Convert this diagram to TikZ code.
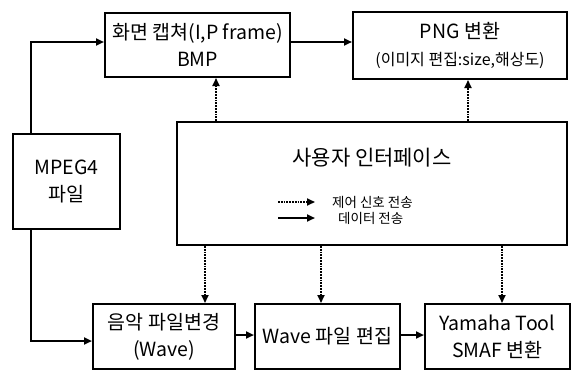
\documentclass[tikz,border=0pt]{standalone}
\usepackage{fontspec}
\setmainfont{Noto Sans CJK KR}
\usetikzlibrary{arrows.meta}

\begin{document}
\begin{tikzpicture}[x=1pt, y=-1pt,
  box/.style={draw, line width=2pt, align=center, inner sep=1pt,
    font=\fontsize{19.5}{27}\selectfont},
  data/.style={line width=2pt, -{Triangle[length=8pt,width=7pt]}},
  ctrl/.style={line width=1.8pt, densely dotted, -{Triangle[length=8pt,width=7pt]}},
  legend/.style={anchor=west, inner sep=0pt, font=\fontsize{13.5}{15}\selectfont}]
  \useasboundingbox (0,0) rectangle (572,372);
  % boxes
  \node[box, minimum width=185pt, minimum height=64pt] (cap)   at (197.5,45)  {화면 캡쳐(I,P frame)\\BMP};
  \node[box, minimum width=214pt, minimum height=67pt] (png)   at (460,45.5)  {PNG 변환\\{\fontsize{16}{20}\selectfont(이미지 편집:size,해상도)}};
  \node[box, minimum width=107pt, minimum height=95pt] (mpeg)  at (66.5,181.5) {MPEG4\\파일};
  \node[box, minimum width=390pt, minimum height=123pt] (ui)   at (372,183.5) {};
  \node[box, minimum width=142pt, minimum height=65pt] (audio) at (164,336.5) {음악 파일변경\\(Wave)};
  \node[box, minimum width=145pt, minimum height=65pt] (wave)  at (327.5,336.5) {Wave 파일 편집};
  \node[box, minimum width=145pt, minimum height=65pt] (yama)  at (497.5,336.5) {Yamaha Tool\\SMAF 변환};
  % inside the interface box
  \node[inner sep=0pt, font=\fontsize{21}{24}\selectfont] (title) at (372,158) {사용자 인터페이스};
  \node[legend] (lctrl) at (332,202) {제어 신호 전송};
  \node[legend] (ldata) at (338,218) {데이터 전송};
  \coordinate (lc) at (278,202);
  \coordinate (ld) at (278,218);
  \draw[ctrl] (lc) -- ([xshift=-17pt]lctrl.west);
  \draw[data] (ld) -- ([xshift=-23pt]ldata.west);
  % data flow
  \draw[data] ([xshift=19pt]mpeg.north west) |- ([yshift=3pt]cap.west);
  \draw[data] ([xshift=19pt]mpeg.south west) |- ([yshift=-4.5pt]audio.west);
  \draw[data] ([yshift=3pt]cap.east) -- ([yshift=3pt]cap.east -| png.west);
  \draw[data] ([yshift=1.5pt]audio.east) -- ([yshift=1.5pt]wave.west);
  \draw[data] ([yshift=1.5pt]wave.east) -- ([yshift=1.5pt]yama.west);
  % control
  \draw[ctrl] ([xshift=40pt]ui.north west) -- ([xshift=40pt]ui.north west |- cap.south);
  \draw[ctrl] ([xshift=292pt]ui.north west) -- ([xshift=292pt]ui.north west |- png.south);
  \draw[ctrl] ([xshift=29pt]ui.south west) -- ([xshift=29pt]ui.south west |- audio.north);
  \draw[ctrl] ([xshift=145pt]ui.south west) -- ([xshift=145pt]ui.south west |- wave.north);
  \draw[ctrl] ([xshift=326pt]ui.south west) -- ([xshift=326pt]ui.south west |- yama.north);
\end{tikzpicture}
\end{document}
